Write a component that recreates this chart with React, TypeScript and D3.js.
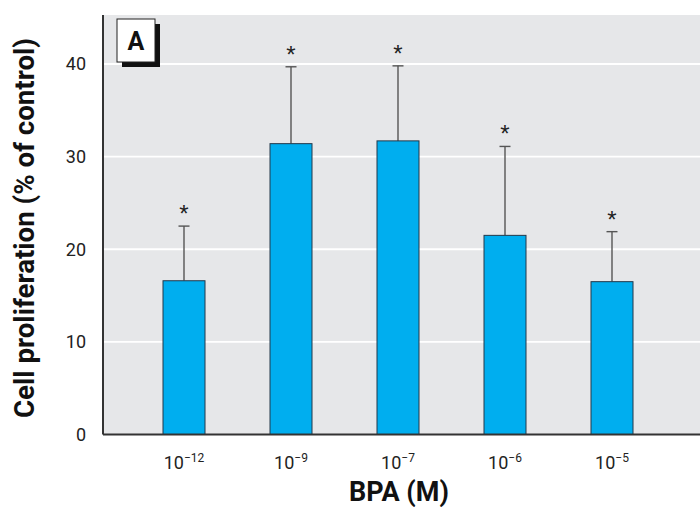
import React from "react";
import * as d3 from "d3";

const categories = ["-12", "-9", "-7", "-6", "-5"];
const values = [16.6, 31.4, 31.7, 21.5, 16.5];
const errors = [5.9, 8.3, 8.1, 9.6, 5.4];
const yTicks = [0, 10, 20, 30, 40];

const W = 700;
const H = 507;
const FONT = "Roboto, 'Liberation Sans', Arial, sans-serif";

export default function App() {
  const left = 103;
  const right = 700;
  const top = 15;
  const bottom = 434.5;
  const y = d3.scaleLinear().domain([0, 40]).range([bottom, 64]);
  const x = d3.scalePoint().domain(categories).range([184, 612]);
  const bw = 42;

  return (
    <svg width={W} height={H} style={{ position: "absolute", left: 0, top: 0, background: "#fff" }} fontFamily={FONT}>
      <rect x={left} y={top} width={right - left} height={bottom - top} fill="#e6e7e9" />
      {yTicks.filter((t) => t > 0).map((t) => (
        <line key={t} x1={left} x2={right} y1={y(t)} y2={y(t)} stroke="#ffffff" strokeWidth={1.8} />
      ))}
      {yTicks.map((t) => (
        <text key={t} x={86} y={y(t)} dy="0.36em" textAnchor="end" fontSize={18} fill="#222">{t}</text>
      ))}
      {categories.map((c, i) => {
        const cx = x(c) as number;
        const yTop = y(values[i]);
        const yErr = y(values[i] + errors[i]);
        return (
          <g key={c}>
            <line x1={cx} x2={cx} y1={yTop} y2={yErr} stroke="#555" strokeWidth={1.4} />
            <line x1={cx - 5.5} x2={cx + 5.5} y1={yErr} y2={yErr} stroke="#555" strokeWidth={1.4} />
            <rect x={cx - bw / 2} y={yTop} width={bw} height={bottom - yTop} fill="#00aeef" stroke="#23384a" strokeWidth={1} />
            <text x={cx} y={yErr - 4} textAnchor="middle" fontSize={24} fill="#222" fontFamily="'Liberation Sans', Arial, sans-serif">*</text>
            <text x={cx} y={469} textAnchor="middle" fontSize={18} fill="#222">
              10<tspan dy={-7} fontSize={12}>{"\u2212" + c.slice(1)}</tspan>
            </text>
          </g>
        );
      })}
      <line x1={left} x2={left} y1={top} y2={bottom} stroke="#333" strokeWidth={2} />
      <line x1={left} x2={right} y1={bottom} y2={bottom} stroke="#333" strokeWidth={2} />
      <rect x={122} y={24} width={38} height={43} fill="#111" />
      <rect x={117} y={19} width={38} height={43} fill="#fff" stroke="#222" strokeWidth={1} />
      <text x={136} y={50} textAnchor="middle" fontSize={25} fontWeight="bold" fill="#111">A</text>
      <text transform={`translate(34,228) rotate(-90)`} textAnchor="middle" fontSize={27} fontWeight="bold" fill="#111" textLength={380} lengthAdjust="spacingAndGlyphs">Cell proliferation (% of control)</text>
      <text x={399} y={501} textAnchor="middle" fontSize={27} fontWeight="bold" fill="#111">BPA (M)</text>
    </svg>
  );
}
